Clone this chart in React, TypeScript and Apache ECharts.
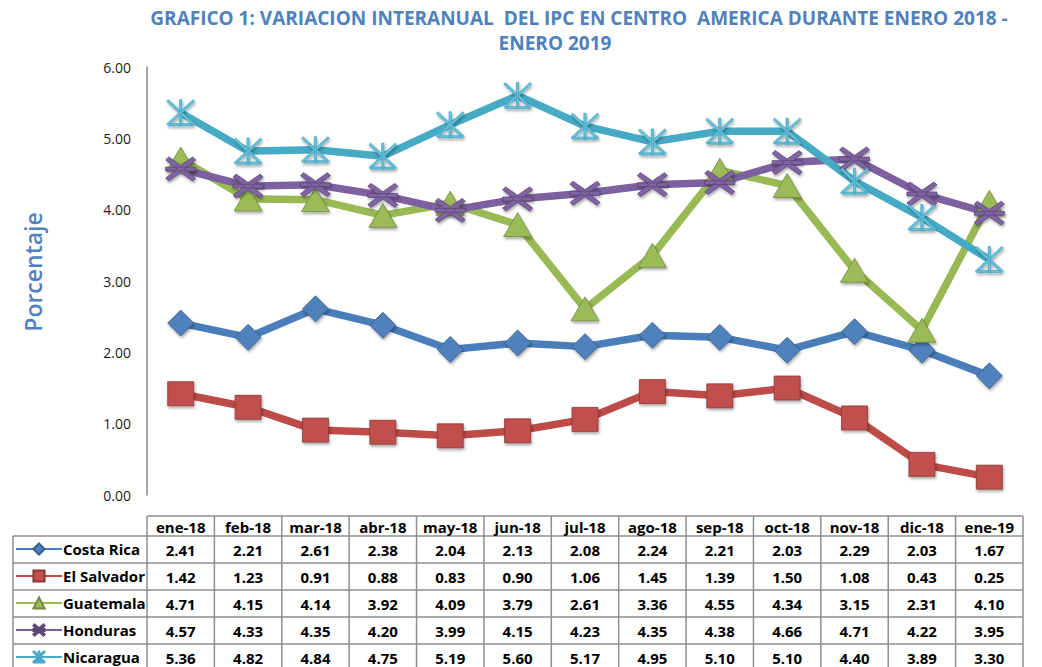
import React, { useEffect, useRef } from 'react';
import * as echarts from 'echarts';

const categories = ['ene-18', 'feb-18', 'mar-18', 'abr-18', 'may-18', 'jun-18', 'jul-18', 'ago-18', 'sep-18', 'oct-18', 'nov-18', 'dic-18', 'ene-19'];
const costaRica = [2.41, 2.21, 2.61, 2.38, 2.04, 2.13, 2.08, 2.24, 2.21, 2.03, 2.29, 2.03, 1.67];
const elSalvador = [1.42, 1.23, 0.91, 0.88, 0.83, 0.90, 1.06, 1.45, 1.39, 1.50, 1.08, 0.43, 0.25];
const guatemala = [4.71, 4.15, 4.14, 3.92, 4.09, 3.79, 2.61, 3.36, 4.55, 4.34, 3.15, 2.31, 4.10];
const honduras = [4.57, 4.33, 4.35, 4.20, 3.99, 4.15, 4.23, 4.35, 4.38, 4.66, 4.71, 4.22, 3.95];
const nicaragua = [5.36, 4.82, 4.84, 4.75, 5.19, 5.60, 5.17, 4.95, 5.10, 5.10, 4.40, 3.89, 3.30];
const seriesNames = ['Costa Rica', 'El Salvador', 'Guatemala', 'Honduras', 'Nicaragua'];
const seriesData = [costaRica, elSalvador, guatemala, honduras, nicaragua];
const titleLine1 = 'GRAFICO 1: VARIACION INTERANUAL  DEL IPC EN CENTRO  AMERICA DURANTE ENERO 2018 -';
const titleLine2 = 'ENERO 2019';
const yAxisTitle = 'Porcentaje';

const HONDURAS_SYMBOL = 'path://M10 0 L50 35 L90 0 L100 12 L62 50 L100 88 L90 100 L50 65 L10 100 L0 88 L38 50 L0 12 Z M0 42 L100 42 L100 58 L0 58 Z';
const NICARAGUA_SYMBOL = 'path://M0 6 L6 0 L50 44 L94 0 L100 6 L56 50 L100 94 L94 100 L50 56 L6 100 L0 94 L44 50 Z M46 0 L54 0 L54 100 L46 100 Z M10 92 L90 92 L90 100 L10 100 Z';

const styles = [
  { color: '#4A7EBB', marker: '#4F81BD', border: '#385D8A', symbol: 'diamond', size: [26, 26] },
  { color: '#BE4B48', marker: '#C0504D', border: '#8C3836', symbol: 'rect', size: [26, 24] },
  { color: '#98B954', marker: '#9BBB59', border: '#71893F', symbol: 'triangle', size: [28, 24] },
  { color: '#7D60A0', marker: '#8064A2', border: '#5C4776', symbol: HONDURAS_SYMBOL, size: [30, 24] },
  { color: '#46AAC5', marker: '#6CC0D8', border: '#46AAC5', symbol: NICARAGUA_SYMBOL, size: [28, 26] },
];

const FONT = 'Open Sans';

export default function App() {
  const ref = useRef<HTMLDivElement>(null);
  useEffect(() => {
    document.body.style.margin = '0';
    const chart = echarts.init(ref.current!, null, { renderer: 'svg' });
    const option: any = {
      animation: false,
      backgroundColor: '#ffffff',
      grid: { left: 147, right: 19, top: 67, bottom: 172 },
      legend: {
        data: seriesNames,
        orient: 'vertical',
        left: 15,
        top: 541.5,
        height: 160,
        padding: 0,
        itemWidth: 46,
        itemHeight: 14,
        itemGap: 12,
        textStyle: { fontFamily: FONT, fontWeight: 'bold', fontSize: 15, color: '#000', lineHeight: 14, padding: [0, 0, 0, -4] },
      },
      xAxis: {
        type: 'category',
        data: categories,
        boundaryGap: true,
        axisLine: { show: false },
        axisTick: { show: false },
        axisLabel: { show: false },
      },
      yAxis: {
        type: 'value',
        min: 0,
        max: 6,
        interval: 1,
        axisLine: { show: true, lineStyle: { color: '#868686', width: 1.5 } },
        axisTick: { show: false },
        splitLine: { show: false },
        axisLabel: {
          formatter: (v: number) => v.toFixed(2),
          fontFamily: FONT,
          fontSize: 14,
          color: '#1a1a1a',
          margin: 16,
        },
      },
      series: seriesNames.map((name, i) => ({
        name,
        type: 'line',
        data: seriesData[i],
        symbol: styles[i].symbol,
        symbolSize: styles[i].size,
        lineStyle: { color: styles[i].color, width: 7.5 },
        itemStyle: {
          color: styles[i].marker,
          borderColor: styles[i].border,
          borderWidth: 0.8,
          shadowColor: 'rgba(0,0,0,0.35)',
          shadowBlur: 3,
          shadowOffsetX: 1,
          shadowOffsetY: 2,
        },
        emphasis: { disabled: true },
      })),
    };
    chart.setOption(option);

    const cx = categories.map((c) => chart.convertToPixel({ xAxisIndex: 0 }, c) as number);
    const colW = (cx[cx.length - 1] - cx[0]) / (cx.length - 1);
    const xStart = cx[0] - colW / 2;
    const xEnd = cx[cx.length - 1] + colW / 2;
    const labelLeft = 13;
    const headerTop = 516;
    const headerBottom = 536;
    const rowH = 27;
    const tableBottom = headerBottom + rowH * seriesNames.length;
    const border = { stroke: '#8E8E8E', lineWidth: 1.5 };
    const elements: any[] = [];
    elements.push({ type: 'line', shape: { x1: xStart, y1: headerTop, x2: xEnd, y2: headerTop }, style: border });
    for (let r = 0; r <= seriesNames.length; r++) {
      const y = headerBottom + r * rowH;
      elements.push({ type: 'line', shape: { x1: labelLeft, y1: y, x2: xEnd, y2: y }, style: border });
    }
    elements.push({ type: 'line', shape: { x1: labelLeft, y1: headerBottom, x2: labelLeft, y2: tableBottom }, style: border });
    for (let k = 0; k <= categories.length; k++) {
      const x = xStart + k * colW;
      elements.push({ type: 'line', shape: { x1: x, y1: headerTop, x2: x, y2: tableBottom }, style: border });
    }
    categories.forEach((c, i) => {
      elements.push({
        type: 'text', x: cx[i], y: (headerTop + headerBottom) / 2 + 1,
        style: { text: c, fontFamily: FONT, fontWeight: 'bold', fontSize: 15, fill: '#000', align: 'center', verticalAlign: 'middle' },
      });
      seriesData.forEach((arr, r) => {
        elements.push({
          type: 'text', x: cx[i], y: headerBottom + r * rowH + rowH / 2,
          style: { text: arr[i].toFixed(2), fontFamily: FONT, fontWeight: 'bold', fontSize: 15, fill: '#000', align: 'center', verticalAlign: 'middle' },
        });
      });
    });
    elements.push({
      type: 'text', x: 579, y: 18,
      style: { text: titleLine1, fontFamily: FONT, fontWeight: 'bold', fontSize: 19, fill: '#4F81BD', align: 'center', verticalAlign: 'middle' },
    });
    elements.push({
      type: 'text', x: 555, y: 43,
      style: { text: titleLine2, fontFamily: FONT, fontWeight: 'bold', fontSize: 19, fill: '#4F81BD', align: 'center', verticalAlign: 'middle' },
    });
    elements.push({
      type: 'text', x: 33, y: 272, rotation: Math.PI / 2,
      style: { text: yAxisTitle, fontFamily: FONT, fontWeight: 600, fontSize: 23, fill: '#4F81BD', align: 'center', verticalAlign: 'middle' },
    });
    chart.setOption({ graphic: elements });

    return () => chart.dispose();
  }, []);
  return <div ref={ref} style={{ width: 1042, height: 667 }} />;
}
